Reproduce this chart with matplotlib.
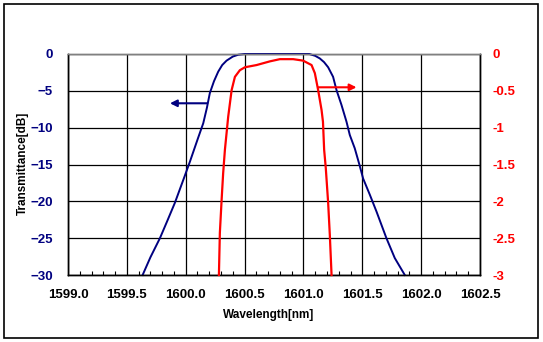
import matplotlib
matplotlib.use("Agg")
import matplotlib.pyplot as plt
from matplotlib.patches import Rectangle
from matplotlib.ticker import MultipleLocator, FormatStrFormatter

# 透過率 [dB]（左軸）
blue_wl = [1599.634, 1599.70, 1599.781, 1599.845, 1599.908, 1599.993, 1600.036,
           1600.064, 1600.105, 1600.149, 1600.18, 1600.205, 1600.24, 1600.276,
           1600.31, 1600.347, 1600.40, 1600.446, 1600.50, 1601.05, 1601.10,
           1601.139, 1601.175, 1601.210, 1601.252, 1601.281, 1601.323, 1601.366,
           1601.394, 1601.436, 1601.477, 1601.507, 1601.564, 1601.621, 1601.705,
           1601.776, 1601.861]
blue_db = [-30.0, -27.6, -25.0, -22.6, -20.2, -16.5, -14.6,
           -13.3, -11.4, -9.4, -7.3, -5.3, -3.7, -2.4,
           -1.5, -0.9, -0.35, -0.1, 0.0, 0.0, -0.25,
           -0.6, -1.1, -1.8, -3.1, -4.9, -6.9, -9.2,
           -11.0, -12.8, -15.1, -16.9, -19.1, -21.4, -25.0,
           -27.7, -30.0]

# 透過率 [dB]（右軸、拡大）
red_wl = [1600.282, 1600.290, 1600.305, 1600.318, 1600.333, 1600.361, 1600.390,
          1600.418, 1600.460, 1600.503, 1600.602, 1600.715, 1600.800, 1600.913,
          1600.997, 1601.069, 1601.097, 1601.125, 1601.154, 1601.166, 1601.176,
          1601.190, 1601.210, 1601.224, 1601.239]
red_db = [-3.0, -2.43, -1.98, -1.62, -1.30, -0.85, -0.49,
          -0.31, -0.22, -0.18, -0.15, -0.10, -0.07, -0.07,
          -0.09, -0.15, -0.26, -0.49, -0.76, -0.92, -1.30,
          -1.55, -2.02, -2.45, -3.0]

x_range = (1599.0, 1602.5)
left_range = (-30, 0)
right_range = (-3, 0)

NAVY = "#000080"
RED = "#FF0000"

plt.rcParams["font.family"] = ["Liberation Sans", "DejaVu Sans"]
plt.rcParams["font.weight"] = "bold"

fig = plt.figure(figsize=(5.43, 3.42), dpi=100)
ax = fig.add_axes([68 / 543, 1 - 275 / 342, 412 / 543, 221 / 342])
ax2 = ax.twinx()

# 外枠
fig.patches.append(Rectangle((4 / 543, 4 / 342), 534 / 543, 334 / 342,
                             transform=fig.transFigure, fill=False,
                             edgecolor="black", linewidth=1.2))

ax.plot(blue_wl, blue_db, color=NAVY, linewidth=1.4, clip_on=False, zorder=3)
ax2.plot(red_wl, red_db, color=RED, linewidth=1.6, clip_on=False, zorder=3)

ax.set_xlim(*x_range)
ax.set_ylim(*left_range)
ax2.set_ylim(*right_range)

ax.xaxis.set_major_locator(MultipleLocator(0.5))
ax.xaxis.set_minor_locator(MultipleLocator(0.1))
ax.xaxis.set_major_formatter(FormatStrFormatter("%.1f"))
ax.yaxis.set_major_locator(MultipleLocator(5))
ax2.yaxis.set_major_locator(MultipleLocator(0.5))
ax2.yaxis.set_major_formatter(FormatStrFormatter("%g"))

ax.grid(True, which="major", color="black", linewidth=0.9)
ax.set_axisbelow(True)

ax.tick_params(axis="x", which="major", length=0, pad=10, labelsize=9.5)
ax.tick_params(axis="x", which="minor", direction="in", length=3, width=0.8)
ax.tick_params(axis="y", length=0, pad=11, labelsize=9.5, labelcolor=NAVY)
ax2.tick_params(axis="y", length=0, pad=9, labelsize=9.5, labelcolor=RED)

for a in (ax, ax2):
    for side in ("left", "right", "bottom"):
        a.spines[side].set_color("black")
        a.spines[side].set_linewidth(1.0)
    a.spines["top"].set_color("#808080")
    a.spines["top"].set_linewidth(1.0)

# 軸ラベル
fig.text(269 / 543, 1 - 315 / 342, "Wavelength[nm]", ha="center", va="center",
         fontsize=8.5, fontweight="bold")
fig.text(23 / 543, 1 - 163.5 / 342, "Transmittance[dB]", ha="center", va="center",
         rotation=90, fontsize=8.5, fontweight="bold")

# 軸を示す矢印
ax.annotate("", xy=(1599.866, -6.69), xytext=(1600.183, -6.69),
            arrowprops=dict(arrowstyle="-|>", color=NAVY, lw=1.5,
                            mutation_scale=10, shrinkA=0, shrinkB=0))
ax2.annotate("", xy=(1601.451, -0.452), xytext=(1601.125, -0.452),
             arrowprops=dict(arrowstyle="-|>", color=RED, lw=1.5,
                             mutation_scale=10, shrinkA=0, shrinkB=0))

fig.savefig("out.png", dpi=100)
